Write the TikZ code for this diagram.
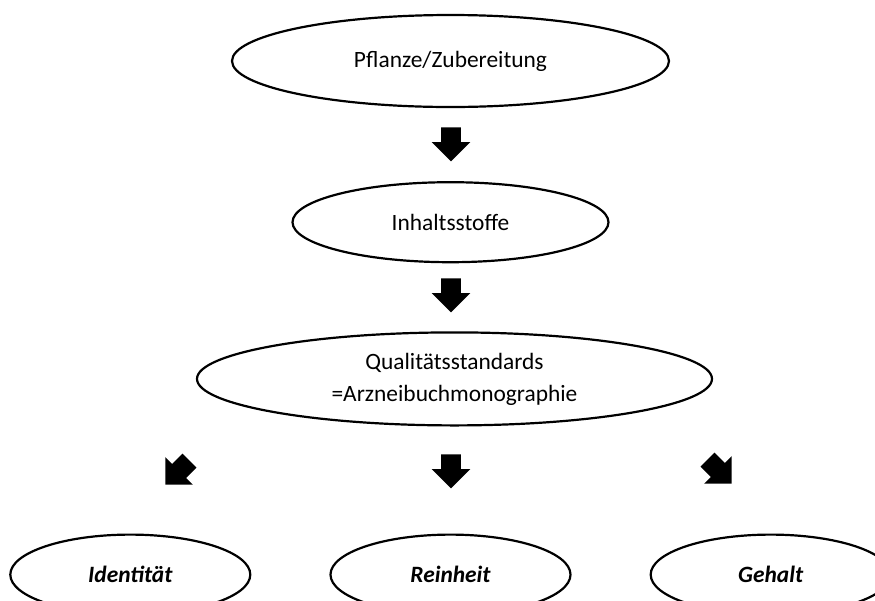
\documentclass[tikz,border=0pt]{standalone}
\usepackage{fontspec}
\setmainfont{Carlito}
\usetikzlibrary{positioning,shapes.geometric,shapes.arrows}

\begin{document}
\begin{tikzpicture}[
  x=0.5pt, y=-0.5pt,
  node distance=36pt and 39pt,
  oval/.style={draw, ellipse, line width=1.1pt, inner sep=0pt, align=center,
               font=\fontsize{11.7}{16}\selectfont},
  result/.style={oval, minimum width=120pt, minimum height=40pt,
                 font=\fontsize{11.7}{16}\selectfont\bfseries\itshape},
  blockarrow/.style={single arrow, fill=black, draw=none,
                     inner xsep=0pt, inner ysep=4.75pt,
                     minimum height=17pt, single arrow head extend=4.75pt,
                     anchor=tip}
]
  \useasboundingbox (0,0) rectangle (875,601);
  \clip (0,0) rectangle (875,601);
  \node[oval, minimum width=218.5pt, minimum height=46pt] (pflanze) at (450.5,61)
    {Pflanze/Zubereitung};
  \node[oval, minimum width=158pt, minimum height=40pt, below=36.5pt of pflanze] (inhalt)
    {Inhaltsstoffe};
  \node[oval, minimum width=257.5pt, minimum height=46.5pt, below=34pt of inhalt, xshift=2pt] (qualitaet)
    {Qualitätsstandards\\=Arzneibuchmonographie};
  \node[result, below=53.5pt of qualitaet, xshift=-2pt] (reinheit) {Reinheit};
  \node[result, left=of reinheit] (identitaet) {Identität};
  \node[result, right=of reinheit] (gehalt) {Gehalt};
  % block arrows
  \node[blockarrow, rotate=-90] (pfeil1) at (451,162) {};
  \node[blockarrow, rotate=-90] (pfeil2) at (451,313) {};
  \node[blockarrow, rotate=-135] (pfeil3) at (165,485) {};
  \node[blockarrow, rotate=-90] (pfeil4) at (451,489) {};
  \node[blockarrow, rotate=-45] (pfeil5) at (732,484) {};
\end{tikzpicture}
\end{document}
